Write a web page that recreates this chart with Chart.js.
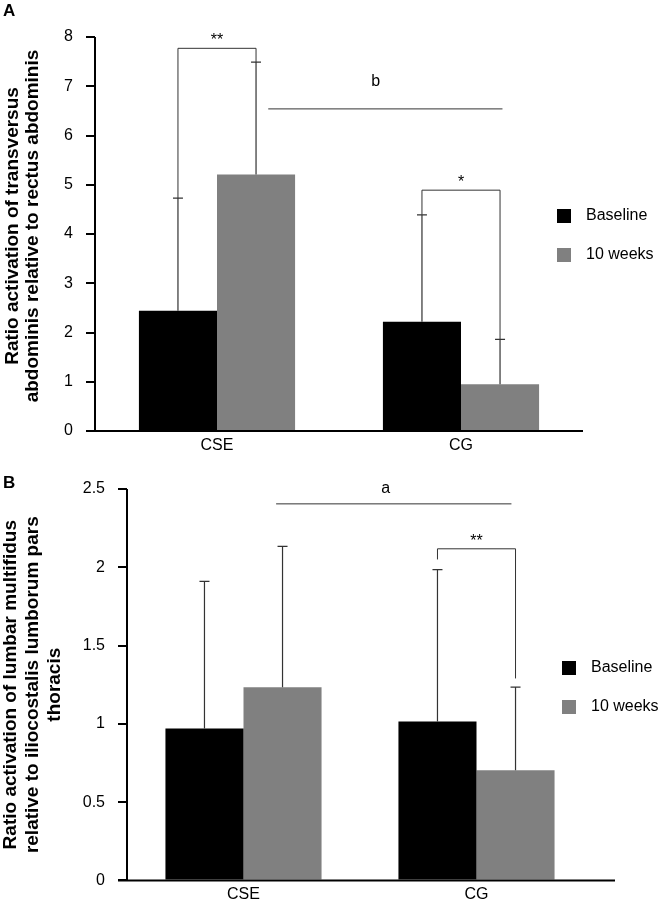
<!DOCTYPE html>
<html>
<head>
<meta charset="utf-8">
<script src="https://cdn.jsdelivr.net/npm/chart.js@4.4.0/dist/chart.umd.min.js"></script>
<style>
  body { margin: 0; background: #fff; }
  canvas { position: absolute; left: 0; }
</style>
</head>
<body>
<canvas id="chartA" width="658" height="460" style="top:0"></canvas>
<canvas id="chartB" width="658" height="443" style="top:460px"></canvas>
<script>
// categories and series
const groups = ["CSE", "CG"];
const seriesNames = ["Baseline", "10 weeks"];

// panel A - transversus abdominis / rectus abdominis
const aTicks = [0, 1, 2, 3, 4, 5, 6, 7, 8];
const aBaseline = [2.44, 2.22];
const a10weeks = [5.21, 0.95];
const aBaselineSD = [2.29, 2.17];
const a10weeksSD = [2.28, 0.91];

// panel B - lumbar multifidus / iliocostalis lumborum pars thoracis
const bTicks = [0, 0.5, 1, 1.5, 2, 2.5];
const bBaseline = [0.97, 1.015];
const b10weeks = [1.233, 0.704];
const bBaselineSD = [0.94, 0.97];
const b10weeksSD = [0.90, 0.53];

Chart.defaults.font.family = "'Liberation Sans', Arial, sans-serif";
Chart.defaults.color = "#000";

const BLACK = "#000000";
const GREY = "#808080";
const LINE = "#333333";

// helper: pixel x for a (fractional) category index
function catX(chart, c) {
  const xs = chart.scales.x;
  const p0 = xs.getPixelForValue(0), p1 = xs.getPixelForValue(1);
  return p0 + c * (p1 - p0);
}

const extrasPlugin = {
  id: "extras",
  afterDatasetsDraw(chart, args, opts) {
    const ctx = chart.ctx;
    const ys = chart.scales.y;
    const area = chart.chartArea;
    ctx.save();

    // error bars (upper only)
    opts.sd.forEach((sdArr, di) => {
      const meta = chart.getDatasetMeta(di);
      meta.data.forEach((el, j) => {
        const v = chart.data.datasets[di].data[j];
        const yTop = ys.getPixelForValue(v + sdArr[j]);
        ctx.strokeStyle = LINE;
        ctx.lineWidth = 1.2;
        ctx.beginPath();
        ctx.moveTo(el.x, el.y);
        ctx.lineTo(el.x, yTop);
        ctx.moveTo(el.x - 5, yTop);
        ctx.lineTo(el.x + 5, yTop);
        ctx.stroke();
      });
    });

    // axis lines
    ctx.strokeStyle = "#000";
    ctx.lineWidth = 2;
    ctx.beginPath();
    ctx.moveTo(area.left, area.top);
    ctx.lineTo(area.left, area.bottom);
    ctx.moveTo(area.left - 9, area.bottom);
    ctx.lineTo(opts.xAxisEnd, area.bottom);
    ctx.stroke();

    // significance brackets
    ctx.lineWidth = 1;
    ctx.strokeStyle = LINE;
    ctx.fillStyle = "#000";
    ctx.font = "16px 'Liberation Sans', Arial, sans-serif";
    ctx.textAlign = "center";
    ctx.textBaseline = "alphabetic";
    opts.brackets.forEach(b => {
      const xl = chart.getDatasetMeta(b.left[0]).data[b.left[1]].x;
      const xr = chart.getDatasetMeta(b.right[0]).data[b.right[1]].x;
      const yt = ys.getPixelForValue(b.top);
      ctx.beginPath();
      ctx.moveTo(xl, ys.getPixelForValue(b.leftEnd));
      ctx.lineTo(xl, yt);
      ctx.lineTo(xr, yt);
      ctx.lineTo(xr, ys.getPixelForValue(b.rightEnd));
      ctx.stroke();
      ctx.fillText(b.label, (xl + xr) / 2, yt - 3);
    });

    // between-group lines
    opts.lines.forEach(l => {
      const y = ys.getPixelForValue(l.y);
      const x0 = catX(chart, l.from), x1 = catX(chart, l.to);
      ctx.beginPath();
      ctx.moveTo(x0, y);
      ctx.lineTo(x1, y);
      ctx.stroke();
      ctx.textBaseline = "middle";
      ctx.fillText(l.label, catX(chart, l.labelAt), ys.getPixelForValue(l.labelY));
      ctx.textBaseline = "alphabetic";
    });

    // legend
    const lg = opts.legend;
    ctx.textAlign = "left";
    ctx.textBaseline = "middle";
    seriesNames.forEach((name, i) => {
      const cy = lg.y + i * lg.gap;
      ctx.fillStyle = chart.data.datasets[i].backgroundColor;
      ctx.fillRect(lg.x, cy - 7, 14, 14);
      ctx.fillStyle = "#000";
      ctx.fillText(name, lg.x + 29, cy);
    });

    // panel letter
    ctx.font = "bold 17px 'Liberation Sans', Arial, sans-serif";
    ctx.textBaseline = "top";
    ctx.fillText(opts.letter, 3, opts.letterY);

    // y axis title
    ctx.font = "bold 19px 'Liberation Sans', Arial, sans-serif";
    ctx.textAlign = "center";
    ctx.textBaseline = "middle";
    const cy = (area.top + area.bottom) / 2 + opts.titleShift;
    opts.title.forEach((t, i) => {
      ctx.save();
      ctx.translate(opts.titleX + i * opts.titleGap, cy);
      ctx.rotate(-Math.PI / 2);
      ctx.fillText(t, 0, 0);
      ctx.restore();
    });

    ctx.restore();
  }
};

function makeChart(id, cfg) {
  return new Chart(document.getElementById(id), {
    type: "bar",
    data: {
      labels: groups,
      datasets: [
        { label: seriesNames[0], data: cfg.base, backgroundColor: BLACK },
        { label: seriesNames[1], data: cfg.week, backgroundColor: GREY }
      ]
    },
    options: {
      responsive: false,
      animation: false,
      layout: { padding: cfg.padding },
      datasets: { bar: { categoryPercentage: cfg.catPct, barPercentage: 1 } },
      plugins: {
        legend: { display: false },
        tooltip: { enabled: false },
        extras: cfg.extras
      },
      scales: {
        x: {
          grid: { display: false, drawTicks: false },
          border: { display: false },
          ticks: { font: { size: 16 }, padding: cfg.xPad },
          afterFit(s) { s.height = cfg.xHeight; }
        },
        y: {
          min: 0,
          max: cfg.ticks[cfg.ticks.length - 1],
          afterBuildTicks(s) { s.ticks = cfg.ticks.map(v => ({ value: v })); },
          ticks: { font: { size: 16 }, padding: 13, callback: v => String(v) },
          grid: { drawOnChartArea: false, tickLength: 9, color: "#000", lineWidth: 2 },
          border: { display: false },
          afterFit(s) { s.width = cfg.yWidth; }
        }
      }
    },
    plugins: [extrasPlugin]
  });
}

makeChart("chartA", {
  base: aBaseline, week: a10weeks, ticks: aTicks,
  padding: { left: 0, right: 75, top: 37, bottom: 0 },
  catPct: 0.64, xPad: 5, xHeight: 29, yWidth: 95,
  extras: {
    sd: [aBaselineSD, a10weeksSD],
    xAxisEnd: 583,
    brackets: [
      { left: [0, 0], right: [1, 0], top: 7.77, leftEnd: 4.73, rightEnd: 7.49, label: "**" },
      { left: [0, 1], right: [1, 1], top: 4.89, leftEnd: 4.39, rightEnd: 1.86, label: "*" }
    ],
    lines: [{ from: 0.21, to: 1.17, y: 6.54, label: "b", labelAt: 0.65, labelY: 7.1 }],
    legend: { x: 557, y: 216, gap: 39 },
    letter: "A", letterY: 3,
    title: ["Ratio activation of transversus", "abdominis relative to rectus abdominis"],
    titleX: 13, titleGap: 20, titleShift: -8
  }
});

makeChart("chartB", {
  base: bBaseline, week: b10weeks, ticks: bTicks,
  padding: { left: 0, right: 65, top: 29, bottom: 0 },
  catPct: 0.67, xPad: 5, xHeight: 20, yWidth: 127,
  extras: {
    sd: [bBaselineSD, b10weeksSD],
    xAxisEnd: 615,
    brackets: [
      { left: [0, 1], right: [1, 1], top: 2.118, leftEnd: 2.05, rightEnd: 1.29, label: "**" }
    ],
    lines: [{ from: 0.14, to: 1.15, y: 2.405, label: "a", labelAt: 0.61, labelY: 2.5 }],
    legend: { x: 562, y: 208, gap: 39 },
    letter: "B", letterY: 15,
    title: ["Ratio activation of lumbar multifidus", "relative to iliocostalis lumborum pars", "thoracis"],
    titleX: 11, titleGap: 22, titleShift: 0
  }
});
</script>
</body>
</html>
